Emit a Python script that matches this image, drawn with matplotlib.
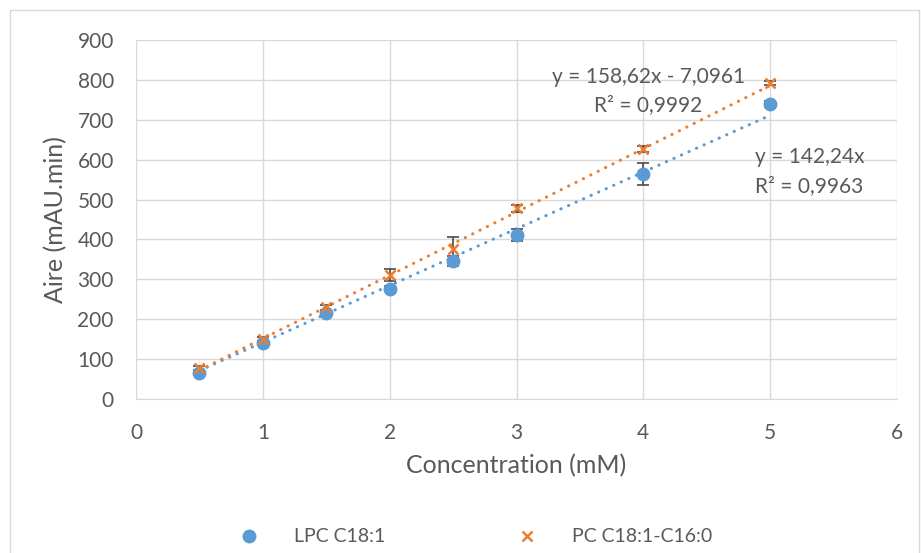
import matplotlib.pyplot as plt
import numpy as np
from matplotlib.patches import Rectangle

plt.rcParams['font.family'] = ['Lato', 'DejaVu Sans']

conc = [0.5, 1, 1.5, 2, 2.5, 3, 4, 5]
lpc = [66, 140, 215, 277, 346, 411, 564, 739]
lpc_err = [6, 5, 6, 6, 12, 16, 27, 8]
pc = [77, 150, 230, 311, 377, 478, 626, 792]
pc_err = [6, 6, 6, 16, 30, 8, 8, 5]

lpc_fit = [142.24, 0.0]
pc_fit = [158.62, -7.0961]

blue = '#5B9BD5'
orange = '#ED7D31'
txt = '#595959'

fig = plt.figure(figsize=(9.21, 5.53), dpi=100)
ax = fig.add_axes([136 / 921, 1 - 399 / 553, (897 - 136) / 921, (399 - 40) / 553])

# bordure du graphique
fig.patches.append(Rectangle((10 / 921, -0.05), 909 / 921, 1.05 - 10 / 553,
                             transform=fig.transFigure, fill=False,
                             edgecolor='#d9d9d9', linewidth=1))

# droites de tendance
xfit = np.array([min(conc), max(conc)])
for coef, col in [(lpc_fit, blue), (pc_fit, orange)]:
    ax.plot(xfit, np.polyval(coef, xfit), color=col, lw=2.2,
            linestyle=(0, (0.1, 2.6)), dash_capstyle='round', zorder=2)

# points + barres d'erreur
ax.errorbar(conc, lpc, yerr=lpc_err, fmt='none', ecolor='#4a4a4a',
            elinewidth=1.2, capsize=4, capthick=1.2, zorder=3)
ax.errorbar(conc, pc, yerr=pc_err, fmt='none', ecolor='#4a4a4a',
            elinewidth=1.2, capsize=4, capthick=1.2, zorder=3)
ax.plot(conc, lpc, 'o', color=blue, ms=9, ls='none', label='LPC C18:1', zorder=4)
ax.plot(conc, pc, 'x', color=orange, ms=7, mew=1.8, ls='none',
        label='PC C18:1-C16:0', zorder=5)

ax.set_xlim(0, 6)
ax.set_ylim(0, 900)
ax.set_xticks(range(0, 7))
ax.set_yticks(range(0, 901, 100))
ax.grid(True, color='#d9d9d9', lw=1)
ax.set_axisbelow(True)
for s in ['top', 'right', 'left']:
    ax.spines[s].set_visible(False)
ax.spines['bottom'].set_color('#d9d9d9')
ax.tick_params(length=0, labelsize=15, colors=txt)
ax.tick_params(axis='x', pad=17)
ax.tick_params(axis='y', pad=16)

ax.set_xlabel('Concentration (mM)', fontsize=18, color=txt, labelpad=8)
ax.set_ylabel('Aire (mAU.min)', fontsize=18, color=txt, labelpad=7)

# équations
ax.text(4.04, 807, 'y = 158,62x - 7,0961', fontsize=15, color=txt, ha='center', va='center')
ax.text(4.04, 737, 'R² = 0,9992', fontsize=15, color=txt, ha='center', va='center')
ax.text(5.31, 606, 'y = 142,24x', fontsize=15, color=txt, ha='center', va='center')
ax.text(5.31, 534, 'R² = 0,9963', fontsize=15, color=txt, ha='center', va='center')

fig.legend(loc='center', bbox_to_anchor=(0.511, 1 - 537 / 553), ncol=2, frameon=False,
           fontsize=14, labelcolor=txt, columnspacing=6.3, handletextpad=1.3)

fig.savefig('out.png', dpi=100)
